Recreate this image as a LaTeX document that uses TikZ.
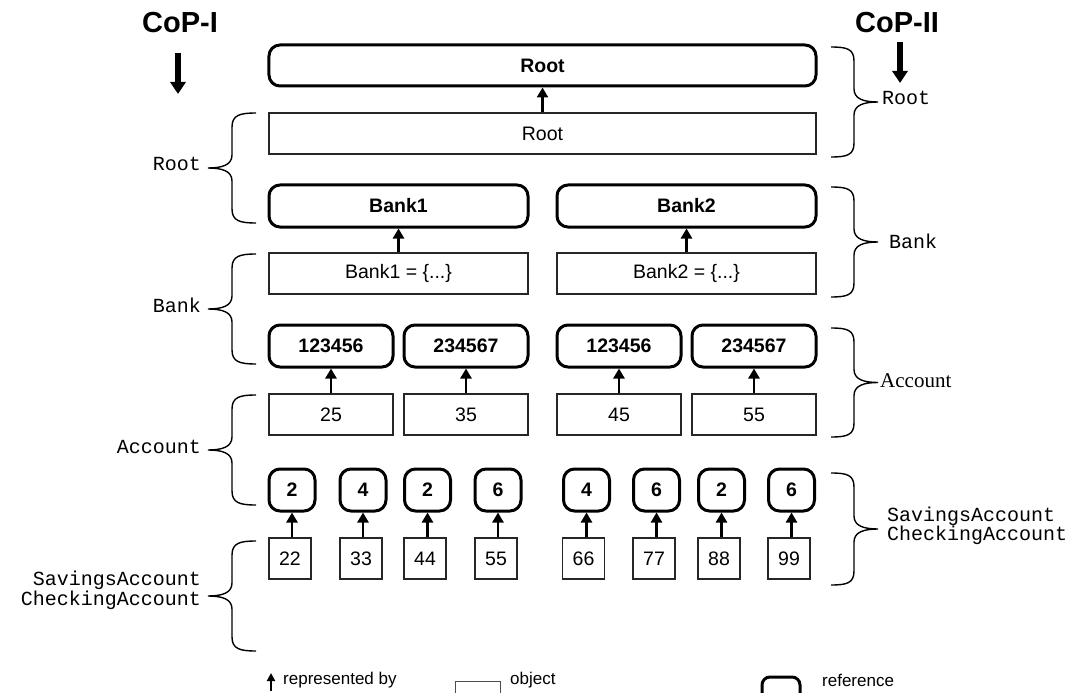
\documentclass[tikz,border=0pt]{standalone}
\usepackage{fontspec}
\setmainfont{Liberation Sans}
\newfontfamily\cour{Liberation Mono}
\newfontfamily\tms{Liberation Serif}
\usetikzlibrary{arrows.meta}
\tikzset{
  objbox/.style={draw=black!85, line width=1.3bp, rectangle, inner sep=0pt, font=\fontsize{19.5bp}{22bp}\selectfont},
  refbox/.style={draw=black, line width=3bp, rectangle, rounded corners=11bp, inner sep=0pt, font=\bfseries\fontsize{19.5bp}{22bp}\selectfont},
  rep/.style={line width=2.6bp, -{Triangle[width=11bp,length=10bp]}},
  bigarrow/.style={line width=6bp, -{Triangle[width=15bp,length=12bp]}},
  brc/.style={line width=1.4bp},
  courlab/.style={font=\cour\fontsize{20bp}{20bp}\selectfont, inner sep=0pt, align=right},
  courlabr/.style={font=\cour\fontsize{20bp}{19bp}\selectfont, inner sep=0pt, align=left},
  legtext/.style={font=\fontsize{17bp}{19bp}\selectfont, inner sep=0pt},
  coptext/.style={font=\bfseries\fontsize{29bp}{30bp}\selectfont, inner sep=0pt},
}
% left brace: top, bottom
\newcommand\BrL[2]{\draw[brc] (256,#1) .. controls (240,#1) and (232,{#1+2}) .. (232,{#1+14})
  -- (232,{(#1+#2)/2-13}) .. controls (232,{(#1+#2)/2-3}) and (222,{(#1+#2)/2}) .. (208,{(#1+#2)/2})
  .. controls (222,{(#1+#2)/2}) and (232,{(#1+#2)/2+3}) .. (232,{(#1+#2)/2+13})
  -- (232,{#2-14}) .. controls (232,{#2-2}) and (240,#2) .. (256,#2);}
\newcommand\BrR[2]{\draw[brc] (831,#1) .. controls (847,#1) and (854,{#1+2}) .. (854,{#1+14})
  -- (854,{(#1+#2)/2-13}) .. controls (854,{(#1+#2)/2-3}) and (864,{(#1+#2)/2}) .. (878,{(#1+#2)/2})
  .. controls (864,{(#1+#2)/2}) and (854,{(#1+#2)/2+3}) .. (854,{(#1+#2)/2+13})
  -- (854,{#2-14}) .. controls (854,{#2-2}) and (847,#2) .. (831,#2);}
\begin{document}
\begin{tikzpicture}[x=1bp,y=-1bp]
\useasboundingbox (0,0) rectangle (1078,693);
% CoP headings
\node[coptext] (cop1) at (180,23) {CoP-I};
\node[coptext] (cop2) at (897,23) {CoP-II};
\coordinate (c1a) at (178,53); \coordinate (c1b) at (178,94);
\coordinate (c2a) at (900,42); \coordinate (c2b) at (900,83);
\draw[bigarrow] (c1a) -- (c1b);
\draw[bigarrow] (c2a) -- (c2b);
% Root
\node[refbox, minimum width=547bp, minimum height=41bp] (rootR) at (542.5,65.5) {Root};
\node[objbox, minimum width=547bp, minimum height=41bp] (rootO) at (542.5,133.5) {Root};
\draw[rep] (rootR.south |- rootO.north) -- (rootR.south);
% Bank
\node[refbox, minimum width=259bp, minimum height=42bp] (b1R) at (398.5,206) {Bank1};
\node[refbox, minimum width=259bp, minimum height=42bp] (b2R) at (686.5,206) {Bank2};
\node[objbox, minimum width=259bp, minimum height=41bp] (b1O) at (398.5,273.5) {Bank1 = \{...\}};
\node[objbox, minimum width=259bp, minimum height=41bp] (b2O) at (686.5,273.5) {Bank2 = \{...\}};
\draw[rep] (b1R.south |- b1O.north) -- (b1R.south);
\draw[rep] (b2R.south |- b2O.north) -- (b2R.south);
% Accounts
\foreach \n/\cx/\r/\o in {1/331/123456/25, 2/466/234567/35, 3/619/123456/45, 4/754/234567/55}{
  \node[refbox, minimum width=124bp, minimum height=42bp] (aR\n) at (\cx,346) {\r};
  \node[objbox, minimum width=124bp, minimum height=41bp] (aO\n) at (\cx,414.5) {\o};
  \draw[rep] (aR\n.south |- aO\n.north) -- (aR\n.south);
}
% Savings / Checking
\foreach \n/\rx/\ox/\r/\o in {1/292/290/2/22, 2/363/361/4/33, 3/427.5/425/2/44, 4/498/496/6/55,
  5/586.5/583.5/4/66, 6/656.5/654/6/77, 7/721.5/719/2/88, 8/791.5/789/6/99}{
  \node[refbox, minimum width=46bp, minimum height=42bp] (sR\n) at (\rx,490) {\r};
  \node[objbox, minimum width=42bp, minimum height=41bp] (sO\n) at (\ox,558.5) {\o};
  \draw[rep] (sR\n.south |- sO\n.north) -- (sR\n.south);
}
% left braces and labels
\BrL{113}{223}
\BrL{254}{364}
\BrL{395}{505}
\BrL{541}{651}
\node[courlab, anchor=east] (lRoot) at (201,164) {Root};
\node[courlab, anchor=east] (lBank) at (201,305) {Bank};
\node[courlab, anchor=east] (lAcc) at (201,447) {Account};
\node[courlab, anchor=east] (lSav) at (201,590) {SavingsAccount\\CheckingAccount};
% right braces and labels
\BrR{47}{157}
\BrR{187}{297}
\BrR{328}{437}
\BrR{473}{585}
\node[courlabr, anchor=west] (rRoot) at (882,98) {Root};
\node[courlabr, anchor=west] (rBank) at (889,241) {Bank};
\node[font=\tms\fontsize{21bp}{22bp}\selectfont, inner sep=0pt, anchor=west] (rAcc) at (880,381) {Account};
\node[courlabr, anchor=west] (rSav) at (887,526) {SavingsAccount\\CheckingAccount};
% legend
\coordinate (lgA) at (271,691); \coordinate (lgB) at (271,673);
\draw[line width=2bp, -{Triangle[width=8bp,length=8bp]}] (lgA) -- (lgB);
\node[legtext, anchor=west] (lgRep) at (283,680) {represented by};
\node[draw=black!70, line width=1bp, minimum width=45bp, minimum height=20bp, inner sep=0pt] (lgObj) at (477.5,691) {};
\node[legtext, anchor=west] (lgObjT) at (510,680) {object};
\node[draw=black, line width=3bp, rounded corners=8bp, minimum width=38bp, minimum height=24bp, inner sep=0pt] (lgRef) at (781,689) {};
\node[legtext, anchor=west] (lgRefT) at (822,680) {reference};
\end{tikzpicture}
\end{document}
